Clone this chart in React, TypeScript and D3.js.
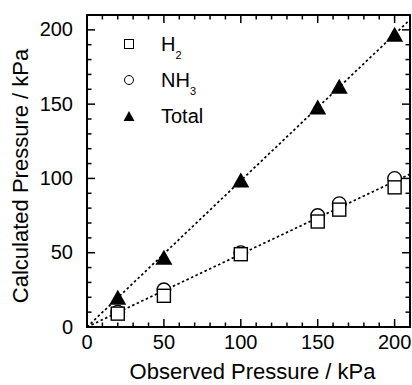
import React from "react";
import * as d3 from "d3";

const observed = [20, 50, 100, 150, 164, 200];
const h2 = [9, 21, 49, 71, 79, 94];
const nh3 = [10, 25, 50, 75, 83, 100];
const total = [20, 47, 99, 148, 162, 197];
const fitSlopes = [0.985, 0.49];
const majorTicks = [0, 50, 100, 150, 200];
const minorTicks = d3.range(0, 211, 10);

const W = 412, H = 385;
const M = { left: 87, right: 410, top: 15, bottom: 327 };
const FONT = "'Liberation Sans', Arial, sans-serif";

function tri(cx: number, cy: number, w: number, h: number) {
  return `M${cx},${cy - h / 2}L${cx + w / 2},${cy + h / 2}L${cx - w / 2},${cy + h / 2}Z`;
}

export default function App() {
  const x = d3.scaleLinear().domain([0, 210]).range([M.left, M.right]);
  const y = d3.scaleLinear().domain([0, 210]).range([M.bottom, M.top]);

  const fitLine = (k: number) => {
    const xEnd = Math.min(210, 210 / k);
    return d3.line<number>().x((v) => x(v)).y((v) => y(k * v))([0, xEnd]) as string;
  };

  const tickEls: React.ReactNode[] = [];
  minorTicks.forEach((t) => {
    const major = majorTicks.includes(t);
    const len = major ? 8 : 4.5;
    tickEls.push(
      <line key={"xb" + t} x1={x(t)} x2={x(t)} y1={M.bottom} y2={M.bottom - len} />,
      <line key={"xt" + t} x1={x(t)} x2={x(t)} y1={M.top} y2={M.top + len} />,
      <line key={"yl" + t} x1={M.left} x2={M.left + len} y1={y(t)} y2={y(t)} />,
      <line key={"yr" + t} x1={M.right} x2={M.right - len} y1={y(t)} y2={y(t)} />
    );
  });

  return (
    <svg width={W} height={H} style={{ position: "absolute", left: 0, top: 0, background: "#fff" }} fontFamily={FONT}>
      <defs>
        <clipPath id="plot">
          <rect x={M.left} y={M.top} width={M.right - M.left} height={M.bottom - M.top} />
        </clipPath>
      </defs>
      <g clipPath="url(#plot)">
        {fitSlopes.map((k, i) => (
          <path key={i} d={fitLine(k)} fill="none" stroke="#000" strokeWidth={1.7} strokeDasharray="2.5,2.5" />
        ))}
      </g>
      {observed.map((v, i) => (
        <circle key={"c" + i} cx={x(v)} cy={y(nh3[i])} r={6.8} fill="#fff" stroke="#000" strokeWidth={1.4} />
      ))}
      {observed.map((v, i) => (
        <rect key={"s" + i} x={x(v) - 6.5} y={y(h2[i]) - 6.5} width={13} height={13} fill="#fff" stroke="#000" strokeWidth={1.4} />
      ))}
      {observed.map((v, i) => (
        <path key={"t" + i} d={tri(x(v), y(total[i]), 17, 15)} fill="#000" />
      ))}
      <g stroke="#000" strokeWidth={1.5}>{tickEls}</g>
      <rect x={M.left} y={M.top} width={M.right - M.left} height={M.bottom - M.top} fill="none" stroke="#000" strokeWidth={2} />
      <g fontSize={20} fill="#000">
        {majorTicks.map((t) => (
          <text key={"xl" + t} x={x(t)} y={349} textAnchor="middle">{t}</text>
        ))}
        {majorTicks.map((t) => (
          <text key={"yl" + t} x={73} y={y(t)} dy="0.33em" textAnchor="end">{t}</text>
        ))}
      </g>
      <text x={(M.left + M.right) / 2 + 4} y={379} textAnchor="middle" fontSize={22}>Observed Pressure / kPa</text>
      <text transform={`translate(28,${(M.top + M.bottom) / 2 + 5}) rotate(-90)`} textAnchor="middle" fontSize={22}>Calculated Pressure / kPa</text>
      <g fontSize={20}>
        <rect x={129 - 4.5} y={44 - 4.5} width={9} height={9} fill="#fff" stroke="#000" strokeWidth={1} />
        <text x={161} y={51}>H<tspan fontSize={11} dy={8}>2</tspan></text>
        <circle cx={129} cy={80} r={4.5} fill="#fff" stroke="#000" strokeWidth={1} />
        <text x={161} y={87}>NH<tspan fontSize={11} dy={8}>3</tspan></text>
        <path d={tri(129, 116, 11, 10)} fill="#000" />
        <text x={161} y={123}>Total</text>
      </g>
    </svg>
  );
}
